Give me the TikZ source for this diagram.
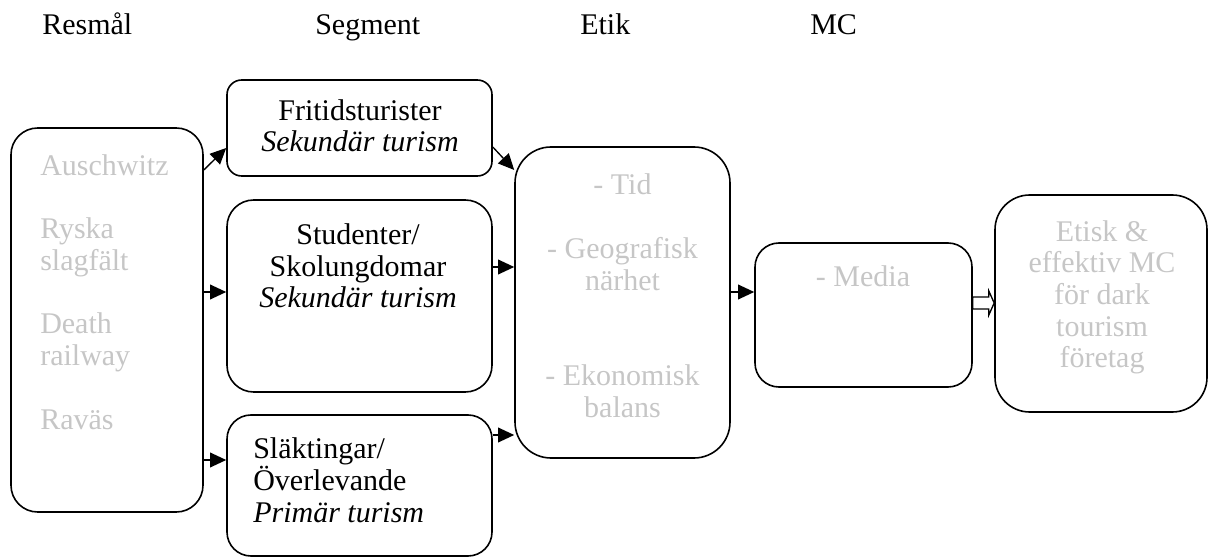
\documentclass[tikz,border=0pt]{standalone}
\usepackage{fontspec}
\setmainfont{Liberation Serif}
\usetikzlibrary{calc,arrows.meta}
\definecolor{softgrey}{RGB}{198,198,198}
\begin{document}
\begin{tikzpicture}[x=0.75pt,y=-0.75pt,
  every node/.style={font=\fontsize{22.5pt}{23.8pt}\selectfont},
  box/.style={draw,line width=1.2pt,rounded corners=#1,inner sep=0pt},
  box/.default=20pt,
  head/.style={anchor=base west,inner sep=0pt},
  dark/.style={inner sep=0pt,align=center,anchor=base},
  pale/.style={inner sep=0pt,align=center,anchor=base,text=softgrey},
  link/.style={line width=1pt,-{Triangle[length=12pt,width=11pt]}},
  hollow/.style={draw,fill=white,line width=1pt,line join=miter}]
\useasboundingbox (0,0) rectangle (1209,559);

% column headings
\node[head] (h1) at (42,35) {Resmål};
\node[head] (h2) at (315,35) {Segment};
\node[head] (h3) at (580,35) {Etik};
\node[head] (h4) at (810,35) {MC};

% boxes
\node[box=20pt,minimum width=144pt,minimum height=288pt] (res) at (107,320) {};
\node[box=11pt,minimum width=198.75pt,minimum height=72pt] (fri) at (359.5,128) {};
\node[box=20pt,minimum width=198.75pt,minimum height=144pt] (stu) at (359.5,296) {};
\node[box=18pt,minimum width=198.75pt,minimum height=105.75pt] (sla) at (359.5,485.5) {};
\node[box=27pt,minimum width=161.25pt,minimum height=233.25pt] (etik) at (622.5,302.5) {};
\node[box=18pt,minimum width=162.75pt,minimum height=108pt] (media) at (863.5,315) {};
\node[box=26pt,minimum width=159pt,minimum height=162.75pt] (fin) at (1101,303.5) {};

% box texts (base anchor = baseline of the last line)
\node[pale,align=left,anchor=base west] (tres) at (40,429)
  {Auschwitz\\[23.8pt]Ryska\\slagfält\\[23.8pt]Death\\railway\\[23.8pt]Raväs};
\node[dark] (tfri) at (360,152) {Fritidsturister\\\textit{Sekundär turism}};
\node[dark] (tstu) at (358,308) {Studenter/\\Skolungdomar\\\textit{Sekundär turism}};
\node[dark,align=left,anchor=base west] (tsla) at (253,522)
  {Släktingar/\\Överlevande\\\textit{Primär turism}};
\node[pale] (tetik) at (622.5,417)
  {- Tid\\[23.8pt]- Geografisk\\närhet\\[47.6pt]- Ekonomisk\\balans};
\node[pale] (tmedia) at (863,287) {- Media};
\node[pale] (tfin) at (1102,368)
  {Etisk \&\\effektiv MC\\för dark\\tourism\\företag};

% connectors
\draw[link] ($(res.east)+(0,-150)$) -- ($(fri.west)+(0,20)$);
\draw[link] ($(res.east)+(0,-28)$) -- ($(stu.west)+(0,-4)$);
\draw[link] ($(res.east)+(0,140)$) -- ($(sla.west)+(0,-25.5)$);
\draw[link] ($(fri.east)+(0,19)$) -- ($(etik.west)+(0,-132.5)$);
\draw[link] ($(stu.east)+(0,-29)$) -- ($(etik.west)+(0,-35.5)$);
\draw[link] ($(sla.east)+(0,-50.5)$) -- ($(etik.west)+(0,132.5)$);
\draw[link] ($(etik.east)+(0,-10.5)$) -- ($(media.west)+(0,-23)$);

% block arrow into the last box
\draw[hollow] ($(media.east)+(0,-18)$) -- ($(media.east)+(16,-18)$)
  -- ($(media.east)+(16,-24)$) -- ($(fin.west)+(0,-0.5)$)
  -- ($(media.east)+(16,0)$) -- ($(media.east)+(16,-6)$)
  -- ($(media.east)+(0,-6)$) -- cycle;
\end{tikzpicture}
\end{document}
